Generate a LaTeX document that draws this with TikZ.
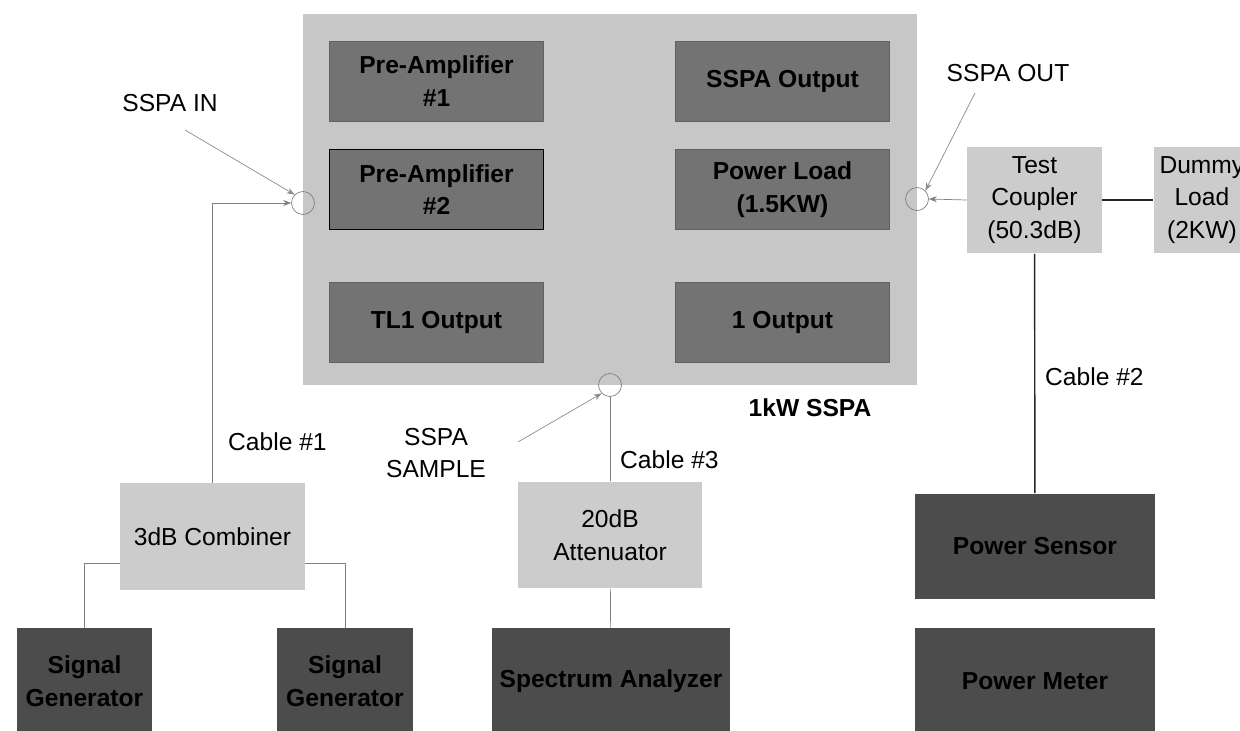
\documentclass[tikz,border=0pt]{standalone}
\usepackage{fontspec}
\setmainfont{Liberation Sans}
\usetikzlibrary{arrows.meta,positioning}

\begin{document}
\begin{tikzpicture}[
  x=0.02cm, y=-0.02cm,
  every node/.style={font=\fontsize{14}{18.5}\selectfont},
  chassis/.style={rectangle, fill=black!22, minimum width=12.28cm, minimum height=7.42cm},
  module/.style={rectangle, fill=black!55, draw=black!62, minimum width=4.28cm,
    minimum height=1.6cm, align=center, font=\fontsize{14}{18.5}\selectfont\bfseries},
  part/.style={rectangle, fill=black!20, minimum height=2.14cm, align=center},
  instr/.style={rectangle, fill=black!70, minimum height=2.12cm, align=center,
    font=\fontsize{14}{18.5}\selectfont\bfseries},
  port/.style={circle, draw=black!50, minimum size=0.46cm, inner sep=0pt},
  cable/.style={draw=black!50},
  wire/.style={draw=black!85, thick},
  pointer/.style={draw=black!45, -{Stealth[length=1.6mm]}},
]
  \useasboundingbox (0,0) rectangle (1240,730);
  \clip (0,0) rectangle (1240,730);

  % 1kW SSPA chassis and its modules
  \node[chassis] (sspa) at (610,199.5) {};
  \node[module] (preamp1) at (436.5,81) {Pre-Amplifier\\\#1};
  \node[module, draw=black, below=0.56cm of preamp1] (preamp2) {Pre-Amplifier\\\#2};
  \node[module, below=1.04cm of preamp2] (tlone) {TL1 Output};
  \node[module] (ssout) at (782.5,81) {SSPA Output};
  \node[module, below=0.56cm of ssout] (pload) {Power Load\\(1.5KW)};
  \node[module, below=1.04cm of pload] (oneout) {1 Output};
  \node[font=\fontsize{14}{18.5}\selectfont\bfseries] (rating) at (810,408) {1kW SSPA};

  \node[port] (portin) at (303,203) {};
  \node[port] (portout) at (917,199) {};
  \node[port] (portsample) at (610,385) {};

  % test set
  \node[part, minimum width=2.7cm] (coupler) at (1034.5,200) {Test\\Coupler\\(50.3dB)};
  \node[part, minimum width=1.92cm, right=1.02cm of coupler] (dummy) {Dummy\\Load\\(2KW)};
  \node[part, minimum width=3.7cm] (combiner) at (212.5,536.5) {3dB Combiner};
  \node[part, minimum width=3.68cm] (atten) at (610,535) {20dB\\Attenuator};

  \node[instr, minimum width=2.7cm] (siggenA) at (84.5,681) {Signal\\Generator};
  \node[instr, minimum width=2.72cm] (siggenB) at (345,681) {Signal\\Generator};
  \node[instr, minimum width=4.76cm] (specan) at (611,681) {Spectrum Analyzer};
  \node[instr, minimum width=4.8cm] (psensor) at (1035,546.5) {Power Sensor};
  \node[instr, minimum width=4.8cm] (pmeter) at (1035,681) {Power Meter};

  % cables
  \draw[cable, -{Stealth[length=1.6mm]}] (combiner.north) |- (portin.west);
  \draw[cable] ([yshift=-0.53cm]combiner.west) -| (siggenA.north);
  \draw[cable] ([yshift=-0.53cm]combiner.east) -| (siggenB.north);
  \draw[cable] (portsample.south) -- (atten.north);
  \draw[cable] (atten) -- (specan);
  \draw[cable, -{Stealth[length=1.6mm]}] (coupler.west) -- (portout.east);
  \draw[wire] (coupler) -- (dummy);
  \draw[wire] (coupler) -- (psensor);

  \node[anchor=west] (cableone) at (222,442) {Cable \#1};
  \node[anchor=west] (cablethree) at (614,460) {Cable \#3};
  \node[anchor=west] (cabletwo) at (1039,377) {Cable \#2};

  % port labels
  \node (inlbl) at (170,103) {SSPA IN};
  \node (outlbl) at (1008,73) {SSPA OUT};
  \node[align=center] (samplelbl) at (436,453) {SSPA\\SAMPLE};
  \coordinate (inptr) at (185,130);
  \coordinate (outptr) at (975,93);
  \coordinate (sampleptr) at (518,442);
  \draw[pointer] (inptr) -- (portin.north west);
  \draw[pointer] (outptr) -- (portout.north east);
  \draw[pointer] (sampleptr) -- (portsample.south west);
\end{tikzpicture}
\end{document}
